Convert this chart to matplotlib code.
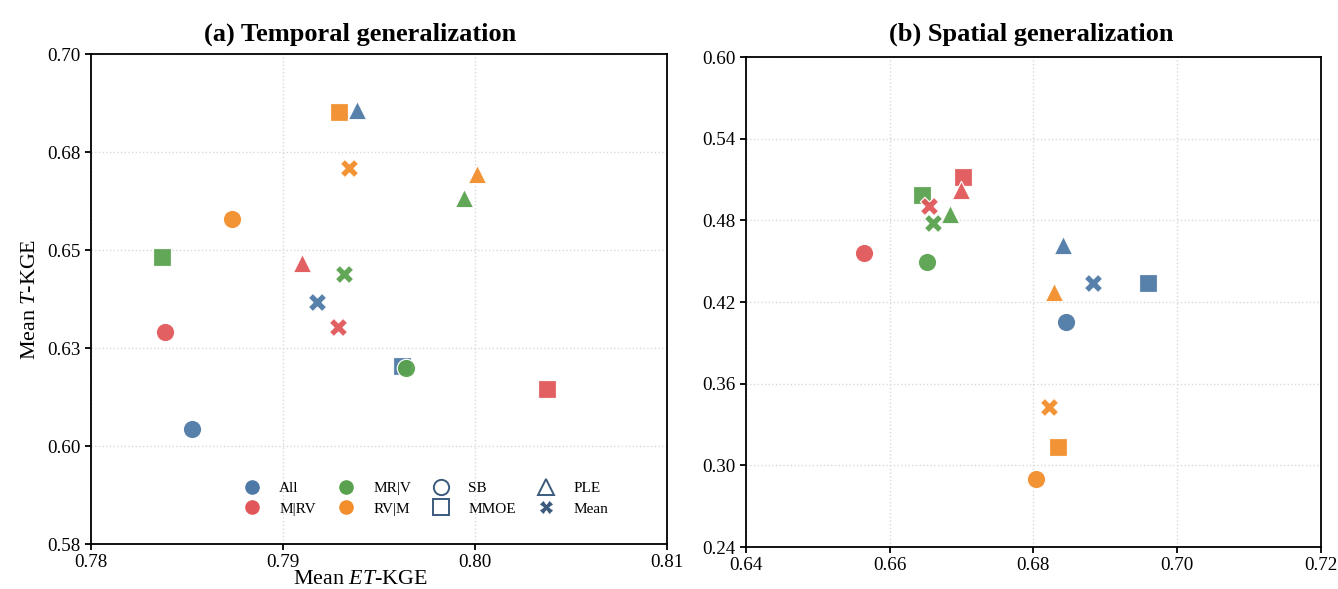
import matplotlib
matplotlib.use('Agg')
import matplotlib.pyplot as plt
from matplotlib.lines import Line2D
import numpy as np

plt.rcParams['font.family'] = 'Liberation Serif'
plt.rcParams['mathtext.fontset'] = 'custom'
plt.rcParams['mathtext.rm'] = 'Liberation Serif'
plt.rcParams['mathtext.it'] = 'Liberation Serif:italic'

# scenarios (colours) and models (markers)
scenarios = ['All', 'M|RV', 'MR|V', 'RV|M']
models = ['SB', 'MMOE', 'PLE', 'Mean']

# (a) temporal: ET-KGE (x) and T-KGE (y), rows follow `scenarios`
temporal_x = {
    'SB':   [0.78526, 0.78385, 0.79641, 0.78734],
    'MMOE': [0.79620, 0.80375, 0.78370, 0.79292],
    'PLE':  [0.79385, 0.79099, 0.79943, 0.80010],
    'Mean': [0.79177, 0.79286, 0.79318, 0.79344],
}
temporal_y = {
    'SB':   [0.60434, 0.62908, 0.61990, 0.65791],
    'MMOE': [0.62041, 0.61454, 0.64821, 0.68520],
    'PLE':  [0.68571, 0.64668, 0.66327, 0.66939],
    'Mean': [0.63673, 0.63036, 0.64388, 0.67092],
}

# (b) spatial
spatial_x = {
    'SB':   [0.68452, 0.65642, 0.66518, 0.68035],
    'MMOE': [0.69593, 0.67019, 0.66449, 0.68341],
    'PLE':  [0.68411, 0.66991, 0.66838, 0.68285],
    'Mean': [0.68828, 0.66546, 0.66602, 0.68216],
}
spatial_y = {
    'SB':   [0.40529, 0.45599, 0.44937, 0.28994],
    'MMOE': [0.43394, 0.51183, 0.49860, 0.31344],
    'PLE':  [0.46186, 0.50228, 0.48464, 0.42733],
    'Mean': [0.43394, 0.49052, 0.47803, 0.34284],
}

colors = ['#4E79A7', '#E15759', '#59A14F', '#F28E2B']
markers = {'SB': 'o', 'MMOE': 's', 'PLE': '^', 'Mean': 'X'}
draw_order = ['MMOE', 'SB', 'PLE', 'Mean']
legend_color = '#3B5A7C'

fig = plt.figure(figsize=(13.38, 5.89), dpi=100)
ax1 = fig.add_axes([0.0680, 0.0764, 0.4305, 0.8319])
ax2 = fig.add_axes([0.5575, 0.0713, 0.4297, 0.8319])


def draw_panel(ax, xs, ys):
    for m in draw_order:
        for i in range(len(scenarios)):
            ax.scatter(xs[m][i], ys[m][i], s=175, marker=markers[m],
                       color=colors[i], edgecolor='white', linewidth=0.9,
                       alpha=0.95, zorder=3)
    ax.grid(True, linestyle=':', color='#d9d9d9', linewidth=1.0)
    ax.set_axisbelow(True)
    for sp in ax.spines.values():
        sp.set_linewidth(1.3)
    ax.tick_params(labelsize=13.7, width=1.3, length=4)


draw_panel(ax1, temporal_x, temporal_y)
ax1.set_xlim(0.78, 0.81)
ax1.set_ylim(0.575, 0.70)
ax1.set_xticks([0.78, 0.79, 0.80, 0.81])
ax1.set_xticklabels(['0.78', '0.79', '0.80', '0.81'])
ax1.set_yticks([0.575, 0.60, 0.625, 0.65, 0.675, 0.70])
ax1.set_yticklabels(['0.58', '0.60', '0.63', '0.65', '0.68', '0.70'])
ax1.set_xlabel('Mean $\\mathit{ET}$-KGE', fontsize=15.8, labelpad=-1, x=0.467)
ax1.set_ylabel('Mean $\\mathit{T}$-KGE', fontsize=15.8, labelpad=5)
ax1.set_title('(a) Temporal generalization', fontsize=19, fontweight='bold',
              pad=10, x=0.467)

draw_panel(ax2, spatial_x, spatial_y)
ax2.set_xlim(0.64, 0.72)
ax2.set_ylim(0.24, 0.60)
xt = [0.64, 0.66, 0.68, 0.70, 0.72]
yt = [0.24, 0.30, 0.36, 0.42, 0.48, 0.54, 0.60]
ax2.set_xticks(xt)
ax2.set_xticklabels(['%.2f' % v for v in xt])
ax2.set_yticks(yt)
ax2.set_yticklabels(['%.2f' % v for v in yt])
ax2.set_title('(b) Spatial generalization', fontsize=19, fontweight='bold',
              pad=12, x=0.497)

# legend: scenarios as coloured dots, models as outlined markers
handles = []
for i, s in enumerate(scenarios):
    handles.append(Line2D([], [], linestyle='none', marker='o', markersize=9.5,
                          color=colors[i], markeredgecolor=colors[i], label=s))
for m in models:
    if m == 'Mean':
        handles.append(Line2D([], [], linestyle='none', marker='X', markersize=10,
                              color=legend_color, markeredgecolor='white',
                              markeredgewidth=0.5, label=m))
    else:
        handles.append(Line2D([], [], linestyle='none', marker=markers[m],
                              markersize=11, markerfacecolor='none',
                              markeredgecolor=legend_color, markeredgewidth=1.4,
                              label=m))
ax1.legend(handles=handles, ncol=4, frameon=False, fontsize=11,
           loc='lower center', bbox_to_anchor=(0.575, 0.03),
           columnspacing=0.95, labelspacing=0.45, handletextpad=0.8)

fig.savefig('out.png', dpi=100)
